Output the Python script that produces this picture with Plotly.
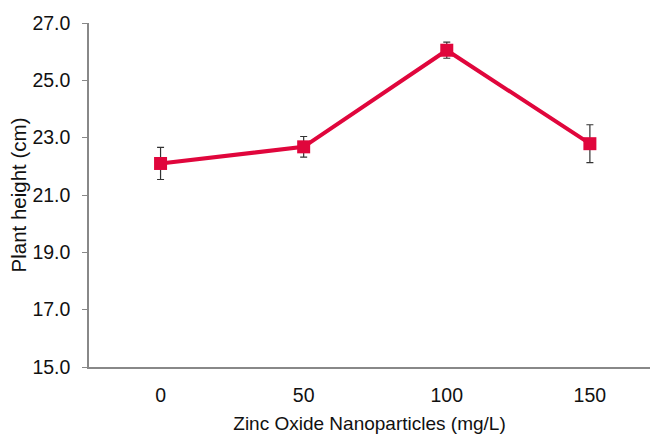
import plotly.graph_objects as go

categories = ["0", "50", "100", "150"]
heights = [22.10, 22.68, 26.05, 22.79]
errors = [0.56, 0.36, 0.28, 0.66]
y_ticks = [15.0, 17.0, 19.0, 21.0, 23.0, 25.0, 27.0]

fig = go.Figure()
fig.add_trace(go.Scatter(
    x=categories, y=heights,
    mode="lines+markers",
    line=dict(color="#E0063C", width=4),
    marker=dict(symbol="square", size=13, color="#E0063C"),
    error_y=dict(type="data", array=errors, visible=True,
                 color="#333333", thickness=1.2, width=3.5),
    showlegend=False,
))

font = "Liberation Sans, Arial, sans-serif"
fig.update_layout(
    width=650, height=435,
    margin=dict(l=89, r=0, t=23, b=68),
    plot_bgcolor="white", paper_bgcolor="white",
    font=dict(family=font, color="#111111"),
    xaxis=dict(
        type="category", range=[-0.5, 3.42],
        showline=True, linecolor="#888888", linewidth=1.5,
        ticks="", showgrid=False, zeroline=False,
        ticklabelstandoff=10,
        tickfont=dict(size=19.5, color="#111111"),
        title=dict(text="Zinc Oxide Nanoparticles (mg/L)", font=dict(size=19), standoff=12),
    ),
    yaxis=dict(
        range=[15, 27], tickvals=y_ticks,
        ticktext=[f"{v:.1f}" for v in y_ticks],
        showline=True, linecolor="#888888", linewidth=1.5,
        ticks="outside", ticklen=5, tickcolor="#888888",
        showgrid=False, zeroline=False,
        ticklabelstandoff=8,
        tickfont=dict(size=19.5, color="#111111"),
        title=dict(text="Plant height (cm)", font=dict(size=20.5), standoff=0),
    ),
)

fig.write_html("out.html")
